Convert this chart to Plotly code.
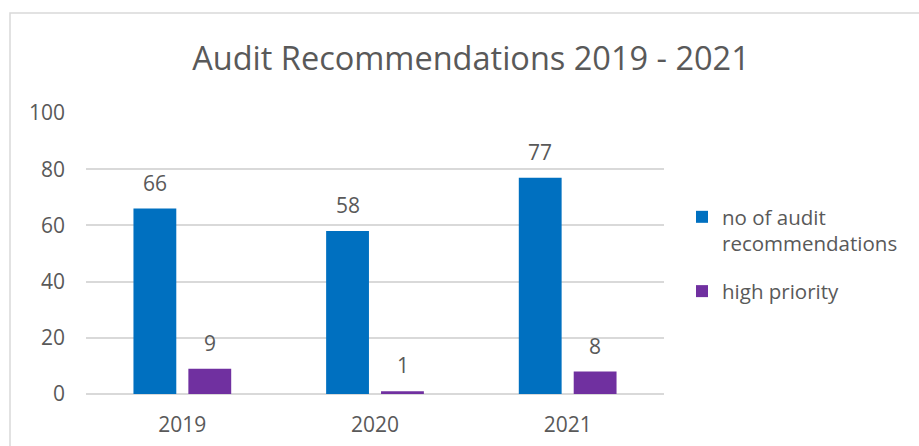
import plotly.graph_objects as go

# Chart data
years = ["2019", "2020", "2021"]
recommendations = [66, 58, 77]
high_priority = [9, 1, 8]

series_names = ["no of audit<br>recommendations", "high priority"]
series_colors = ["#0070C0", "#7030A0"]

TEXT = "#595959"
GRID = "#D9D9D9"
FONT = "Open Sans"

fig = go.Figure()
for k, (name, vals, color) in enumerate(zip(series_names, [recommendations, high_priority], series_colors)):
    fig.add_trace(go.Bar(
        x=years, y=vals, name=name, legendgroup=f"g{k}",
        marker=dict(color=color, line=dict(width=0)),
    ))

# Value labels above each bar (category index used for x position)
bar_offset = 27.5
for i, vals in enumerate([recommendations, high_priority]):
    shift = -bar_offset if i == 0 else bar_offset
    for idx, v in enumerate(vals):
        fig.add_annotation(
            x=idx, y=v, xref="x", yref="y", text=str(v), showarrow=False,
            xshift=shift, yshift=26, yanchor="middle",
            font=dict(family=FONT, size=21, color=TEXT),
        )

# Outer chart frame
fig.add_shape(
    type="rect", xref="paper", yref="paper",
    x0=(10 - 86) / 578, x1=(940 - 86) / 578,
    y0=(394 - 470) / 281, y1=(394 - 13) / 281,
    line=dict(color=GRID, width=1.5), fillcolor="rgba(0,0,0,0)", layer="below",
)

fig.update_layout(
    width=919, height=446,
    margin=dict(l=86, r=255, t=113, b=52, autoexpand=False),
    paper_bgcolor="white", plot_bgcolor="white",
    barmode="group", bargap=0.43, bargroupgap=0.22,
    title=dict(
        text="Audit Recommendations 2019 - 2021",
        xref="container", yref="container",
        x=471 / 919, y=1 - 59 / 446, xanchor="center", yanchor="middle",
        font=dict(family=FONT, size=32.5, color=TEXT),
    ),
    font=dict(family=FONT, color=TEXT, size=20),
    legend=dict(
        x=(682 - 86) / 578, y=(394 - 197) / 281,
        xanchor="left", yanchor="top",
        font=dict(family=FONT, size=20.5, color=TEXT),
        valign="top", tracegroupgap=18,
        bgcolor="rgba(0,0,0,0)",
    ),
    showlegend=True,
)

fig.update_xaxes(
    type="category", range=[-0.5, len(years) - 0.5],
    showgrid=False, showline=False, zeroline=False,
    tickfont=dict(family=FONT, size=21, color=TEXT),
    ticklabelstandoff=16, automargin=False,
)
fig.update_yaxes(
    range=[0, 100], dtick=20, tick0=0,
    showgrid=True, gridcolor=GRID, gridwidth=1.5,
    zeroline=True, zerolinecolor=GRID, zerolinewidth=1.5,
    showline=False,
    tickfont=dict(family=FONT, size=21, color=TEXT),
    ticklabelstandoff=20, automargin=False,
)

fig.write_html("out.html")
